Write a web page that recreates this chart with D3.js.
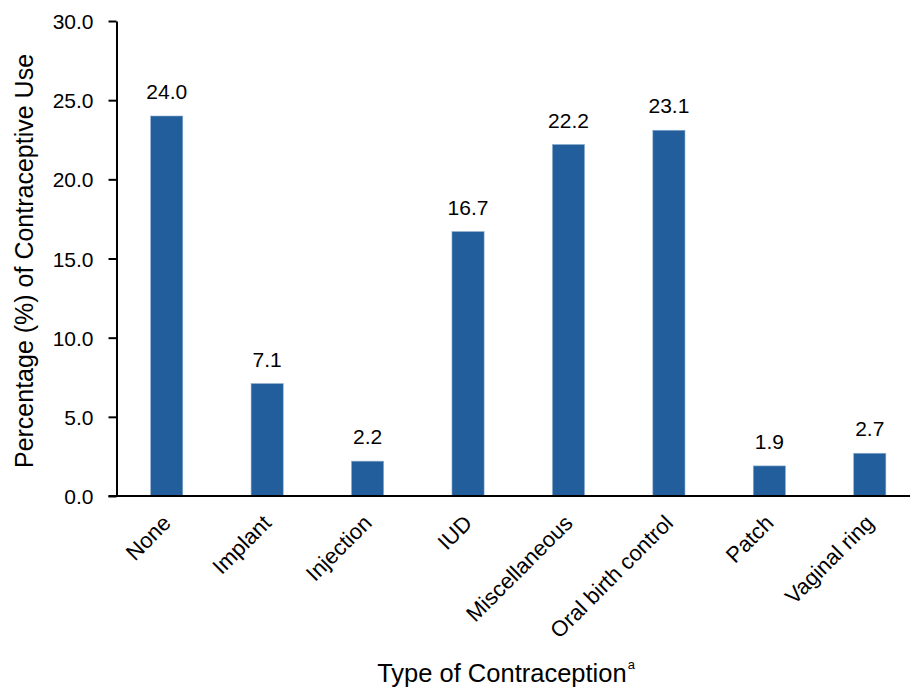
<!DOCTYPE html>
<html>
<head>
<meta charset="utf-8">
<script src="https://cdn.jsdelivr.net/npm/d3@7"></script>
<style>
  html, body { margin: 0; padding: 0; background: #fff; }
  svg { display: block; font-family: "Liberation Sans", Arial, sans-serif; }
</style>
</head>
<body>
<svg id="chart" width="910" height="688"></svg>
<script>
// Contraceptive use by type
const categories = ["None", "Implant", "Injection", "IUD", "Miscellaneous", "Oral birth control", "Patch", "Vaginal ring"];
const values = [24.0, 7.1, 2.2, 16.7, 22.2, 23.1, 1.9, 2.7];
const yTicks = [0, 5, 10, 15, 20, 25, 30];

const svg = d3.select("#chart");
const x0 = 116.5, x1 = 920, yBase = 496, yTop = 21;

const x = d3.scaleBand().domain(categories).range([x0, x1]).paddingInner(0.68).paddingOuter(0.34);
const y = d3.scaleLinear().domain([0, 30]).range([yBase, yTop]);

// y axis
const yAxis = svg.append("g")
  .attr("transform", `translate(${x0},0)`)
  .call(d3.axisLeft(y).tickValues(yTicks).tickFormat(d3.format(".1f")).tickSize(8).tickSizeOuter(0));
yAxis.select(".domain").attr("stroke", "#000").attr("stroke-width", 2);
yAxis.selectAll(".tick line").attr("stroke", "#000").attr("stroke-width", 2);
yAxis.selectAll(".tick text")
  .attr("x", -23).attr("dy", "0.36em")
  .style("font-size", "21px").attr("fill", "#000");

// bars
svg.append("g").selectAll("rect")
  .data(values)
  .join("rect")
  .attr("x", (d, i) => x(categories[i]))
  .attr("width", x.bandwidth())
  .attr("y", d => y(d))
  .attr("height", d => y(0) - y(d))
  .attr("fill", "#215E9B")
  .attr("stroke", "#8eaecf")
  .attr("stroke-width", 0.6);

// value labels
svg.append("g").selectAll("text")
  .data(values)
  .join("text")
  .attr("x", (d, i) => x(categories[i]) + x.bandwidth() / 2)
  .attr("y", d => y(d) - 17)
  .attr("text-anchor", "middle")
  .style("font-size", "21px")
  .attr("fill", "#000")
  .text(d => d.toFixed(1));

// x axis baseline
svg.append("line")
  .attr("x1", x0 - 8).attr("x2", 910)
  .attr("y1", yBase).attr("y2", yBase)
  .attr("stroke", "#000").attr("stroke-width", 2);

// category labels, rotated
svg.append("g").selectAll("text")
  .data(categories)
  .join("text")
  .attr("transform", d => `translate(${x(d) + x.bandwidth() / 2},${yBase + 23}) rotate(-45)`)
  .attr("text-anchor", "end")
  .attr("dy", "0.35em")
  .style("font-size", "22px")
  .attr("fill", "#000")
  .text(d => d);

// axis titles
svg.append("text")
  .attr("transform", `translate(33,261) rotate(-90)`)
  .attr("text-anchor", "middle")
  .style("font-size", "25px")
  .attr("fill", "#000")
  .text("Percentage (%) of Contraceptive Use");

const xt = svg.append("text")
  .attr("x", 506).attr("y", 682)
  .attr("text-anchor", "middle")
  .style("font-size", "25.5px")
  .attr("fill", "#000");
xt.append("tspan").text("Type of Contraception");
xt.append("tspan").attr("dx", "1").attr("dy", "-13").style("font-size", "13px").text("a");
</script>
</body>
</html>
